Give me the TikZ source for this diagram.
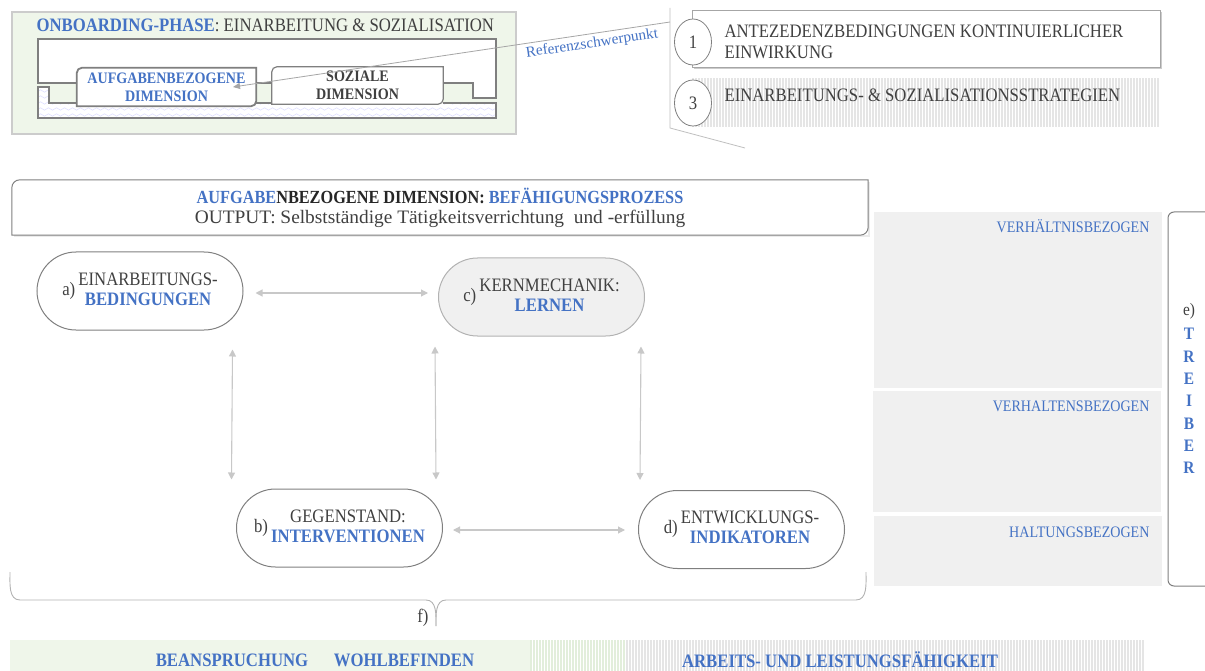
\documentclass[tikz,border=0pt]{standalone}
\usepackage{fontspec}
\setmainfont{Liberation Serif}[FakeStretch=0.88]
\newfontfamily\widefont{Liberation Serif}[FakeStretch=1.02]
\usetikzlibrary{shapes.misc,shapes.geometric,arrows.meta,calc,decorations.pathmorphing}

\definecolor{refblue}{HTML}{4472C4}
\definecolor{txtgray}{HTML}{404040}
\definecolor{linegray}{HTML}{7F7F7F}
\definecolor{arrowgray}{HTML}{C8C8C8}
\definecolor{panelgray}{HTML}{F0F0F0}
\definecolor{palegreen}{HTML}{EFF6EA}
\definecolor{stripegreen}{HTML}{E2EEDB}

\newcommand{\fnorm}{\fontsize{19}{20}\selectfont}
\newcommand{\fsmall}{\fontsize{16}{18}\selectfont}
\newcommand{\hl}[1]{\textcolor{refblue}{\bfseries #1}}
\newcommand{\dimtext}[3]{#1\,\begin{tabular}{@{}c@{}}#2\\ \hl{#3}\end{tabular}}

\begin{document}
\begin{tikzpicture}[x=1pt, y=-1pt,
  every node/.style={text=txtgray, font=\fnorm},
  frame/.style={draw=linegray, line width=1.2pt},
  dimnode/.style={rounded rectangle, draw=linegray, line width=1pt, minimum width=206pt, minimum height=78pt, inner sep=0pt},
  link/.style={draw=arrowgray, line width=1.1pt, {Triangle[width=7pt,length=7pt]}-{Triangle[width=7pt,length=7pt]}},
  stripe/.style={draw=black!10, line width=1.1pt},
  gstripe/.style={draw=stripegreen, line width=1.1pt},
  panel/.style={fill=panelgray, draw=none, inner sep=0pt},
  wave/.style={draw=blue!12, line width=0.6pt, decorate, decoration={snake, amplitude=1.2pt, segment length=8pt}}]
\useasboundingbox (0,0) rectangle (1205,671);

% onboarding phase
\node[fill=palegreen, draw=black!20, line width=1.5pt, minimum width=504pt, minimum height=122pt] (onb) at (264,73) {};
\node[anchor=west] (onbtitle) at (33,25) {\hl{ONBOARDING-PHASE}: EINARBEITUNG \& SOZIALISATION};
\draw[frame, fill=white] (38,39) -- (496,39) -- (496,98) -- (473,98) -- (473,83) -- (38,83) -- cycle;
\begin{scope}
\clip (38,87) -- (49,87) -- (49,103) -- (496,103) -- (496,118) -- (38,118) -- cycle;
\fill[white] (30,80) rectangle (500,120);
\foreach \y in {91,97,...,117}
  \draw[wave] (30,\y) -- (500,\y);
\end{scope}
\draw[frame] (38,87) -- (49,87) -- (49,103) -- (496,103) -- (496,118) -- (38,118) -- cycle;

\node[fill=white, minimum width=179pt, minimum height=38pt, align=center, font=\fsmall\bfseries, text=refblue] (aufg) at (166.5,87) {AUFGABENBEZOGENE\\DIMENSION};
\draw[draw=linegray, line width=1.8pt] (aufg.south west) -- (aufg.west) [rounded corners=5pt] -- (aufg.north west) -- (aufg.north) [sharp corners] -- (aufg.north east) -- (aufg.east) [rounded corners=5pt] -- (aufg.south east) -- (aufg.south) [sharp corners] -- cycle;
\node[fill=white, minimum width=171pt, minimum height=37pt, align=center, font=\fsmall\bfseries] (soz) at (357.5,85.5) {SOZIALE\\DIMENSION};
\draw[draw=linegray, line width=1.2pt] (soz.south west) -- (soz.west) [rounded corners=5pt] -- (soz.north west) -- (soz.north) [sharp corners] -- (soz.north east) -- (soz.east) [rounded corners=5pt] -- (soz.south east) -- (soz.south) [sharp corners] -- cycle;

% reference bracket
\coordinate (brtop) at (670,8);
\coordinate (brbot) at (670,128);
\coordinate (brend) at (745,148);
\coordinate (refpt) at (670,22);
\coordinate (refend) at (233,87);
\draw[black!25, line width=0.8pt] (brtop) -- (brbot) -- (brend);
\draw[black!35, line width=0.8pt, -{Triangle[width=6pt,length=7pt]}] (refpt) -- (refend);
\node[rotate=8.5, font=\widefont\fontsize{15}{16}\selectfont, text=refblue] (refname) at (592,44) {Referenzschwerpunkt};

% strategies
\fill[black!20] (694,12) rectangle (1162,69);
\node[fill=white, draw=black!35, line width=0.8pt, minimum width=468pt, minimum height=57pt] (pre1) at (926,38.5) {};
\foreach \x in {693,696,...,1159}
  \draw[stripe] (\x,78) -- (\x,127);
\node[ellipse, draw=linegray, fill=white, line width=0.8pt, minimum width=37pt, minimum height=46pt] (c1) at (693,42) {1};
\node[ellipse, draw=linegray, fill=white, line width=0.8pt, minimum width=37pt, minimum height=46pt] (c3) at (693,103) {3};
\node[anchor=west, align=left, font=\fontsize{19}{21}\selectfont] (pre1txt) at (721,42) {ANTEZEDENZBEDINGUNGEN KONTINUIERLICHER\\EINWIRKUNG};
\node[anchor=west] (pre3txt) at (721,95) {EINARBEITUNGS- \& SOZIALISATIONSSTRATEGIEN};

% task dimension
\fill[black!8] (14,182) rectangle (870,237);
\node[fill=white, minimum width=856pt, minimum height=55pt, align=center] (hdr) at (440,207.5) {{\fontsize{18.5}{20}\selectfont\bfseries\color{black!85}\textcolor{refblue}{AUFGABE}NBEZOGENE DIMENSION: \textcolor{refblue}{BEFÄHIGUNGSPROZESS}}\\{\widefont OUTPUT: Selbstständige Tätigkeitsverrichtung \ und -erfüllung}};
\draw[draw=linegray, line width=1pt] (hdr.south west) -- (hdr.west) [rounded corners=8pt] -- (hdr.north west) -- (hdr.north) [sharp corners] -- (hdr.north east) -- (hdr.east) [rounded corners=8pt] -- (hdr.south east) -- (hdr.south) [sharp corners] -- cycle;

\node[dimnode] (a) at (140,291) {\dimtext{a)}{EINARBEITUNGS-}{BEDINGUNGEN}};
\node[dimnode, fill=panelgray, draw=black!30] (c) at (541.5,297) {\dimtext{c)}{KERNMECHANIK:}{LERNEN}};
\node[dimnode] (b) at (339.5,528) {\dimtext{b)}{GEGENSTAND:}{INTERVENTIONEN}};
\node[dimnode] (d) at (741.5,529.5) {\dimtext{d)}{ENTWICKLUNGS-}{INDIKATOREN}};

\draw[link] ($(a.east)+(12,2)$) -- ($(c.west)+(-10,-4)$);
\draw[link] ($(a.east |- a.south)+(-11,19)$) -- ($(b.west |- b.north)+(-4.5,-9)$);
\draw[link] ($(c.west |- c.south)+(-3,10)$) -- ($(b.east |- b.north)+(-7,-9)$);
\draw[link] ($(c.east |- c.south)+(-4,10)$) -- ($(d.west |- d.north)+(2,-10)$);
\draw[link] ($(b.east)+(10,2)$) -- ($(d.west)+(-13,0.5)$);

% drivers
\node[panel, minimum width=288pt, minimum height=176pt] (p1) at (1018,300) {};
\node[panel, minimum width=288pt, minimum height=121pt] (p2) at (1017,451.5) {};
\node[panel, minimum width=288pt, minimum height=70pt] (p3) at (1018,551) {};
\node[anchor=east, text=refblue, font=\fsmall] (p1txt) at (1153,226) {VERHÄLTNISBEZOGEN};
\node[anchor=east, text=refblue, font=\fsmall] (p2txt) at (1153,406) {VERHALTENSBEZOGEN};
\node[anchor=east, text=refblue, font=\fsmall] (p3txt) at (1153,532) {HALTUNGSBEZOGEN};
\draw[linegray, line width=1pt, rounded corners=6pt] (1206,212) -- (1168,212) -- (1168,586) -- (1206,586);
\node[align=center, font=\fontsize{17.5}{22.3}\selectfont, anchor=north] (treiber) at (1189,300) {e)\\[2pt]\hl{T}\\\hl{R}\\\hl{E}\\\hl{I}\\\hl{B}\\\hl{E}\\\hl{R}};

% outcome brace
\coordinate (brl) at (10,572);
\coordinate (brtip) at (436,626);
\coordinate (brr) at (866,572);
\draw[black!30, line width=0.9pt] (brl) to[out=-90, in=180] (20,600) -- (426,600) to[out=0, in=90] (brtip);
\draw[black!30, line width=0.9pt] (brtip) to[out=90, in=180] (446,600) -- (856,600) to[out=0, in=-90] (brr);
\node[anchor=east] (ftag) at (432,618) {f)};

% outcomes
\fill[palegreen] (10,640) rectangle (530,671);
\foreach \x in {531,534,...,624}
  \draw[gstripe] (\x,640) -- (\x,671);
\foreach \x in {627,630,...,1144}
  \draw[stripe] (\x,640) -- (\x,671);
\node (bean) at (232,660) {\hl{BEANSPRUCHUNG}};
\node (wohl) at (404,660) {\hl{WOHLBEFINDEN}};
\node (arbeit) at (840,660) {\hl{ARBEITS- UND LEISTUNGSFÄHIGKEIT}};
\end{tikzpicture}
\end{document}
